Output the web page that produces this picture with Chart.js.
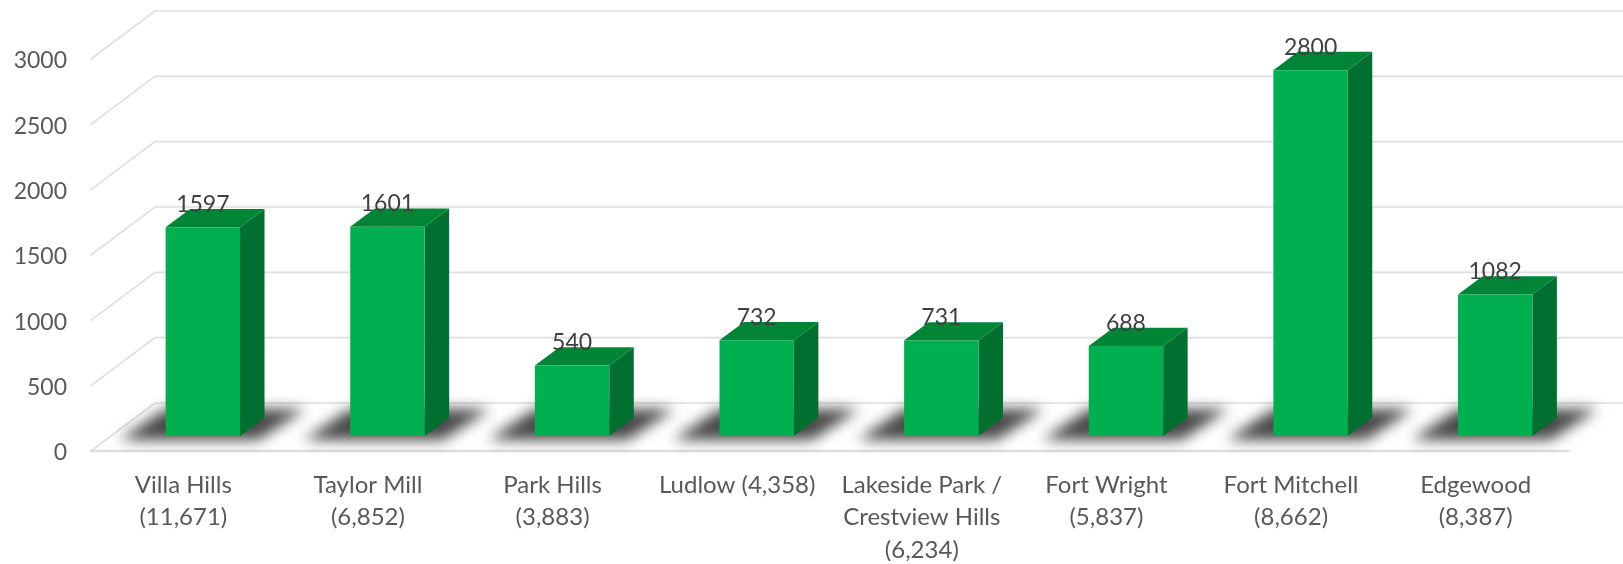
<!DOCTYPE html>
<html>
<head>
<meta charset="utf-8">
<style>html,body{margin:0;padding:0;background:#fff}#w{width:1623px;height:564px}canvas{display:block}</style>
<script src="https://cdn.jsdelivr.net/npm/chart.js@4"></script>
</head>
<body>
<div id="w"><canvas id="c"></canvas></div>
<script>
const categories = [
  ["Villa Hills","(11,671)"],
  ["Taylor Mill","(6,852)"],
  ["Park Hills","(3,883)"],
  ["Ludlow (4,358)"],
  ["Lakeside Park /","Crestview Hills","(6,234)"],
  ["Fort Wright","(5,837)"],
  ["Fort Mitchell","(8,662)"],
  ["Edgewood","(8,387)"]
];
const values = [1597,1601,540,732,731,688,2800,1082];
const FONT = 'Lato, "Open Sans", sans-serif';
const WALL = {dx:64, dy:48};     // floor depth
const BAR = {dx:19.5, dy:15};    // bar front plane inset
const SIDE = {dx:24.5, dy:18.3}; // bar depth
const FRONT = '#00B050', TOP = '#008537', RIGHT = '#006F30', GRID = '#dedede';

const plot3d = {
  id:'plot3d',
  beforeDatasetsDraw(chart){
    const {ctx, chartArea:a, scales:{y}} = chart;
    ctx.save();
    ctx.strokeStyle = GRID; ctx.lineCap='round';
    y.ticks.forEach(t=>{
      const py = y.getPixelForValue(t.value);
      ctx.lineWidth = 1.6;
      ctx.beginPath();
      ctx.moveTo(a.left, py);
      ctx.lineTo(a.left+WALL.dx, py-WALL.dy);
      ctx.lineTo(chart.width, py-WALL.dy);
      ctx.stroke();
    });
    const y0 = y.getPixelForValue(0);
    ctx.lineWidth = 2.4;
    ctx.beginPath(); ctx.moveTo(a.left,y0); ctx.lineTo(a.right,y0); ctx.stroke();
    ctx.restore();
    const meta = chart.getDatasetMeta(0);
    ctx.save();
    ctx.filter = 'blur(7px)';
    ctx.fillStyle = '#484848';
    meta.data.forEach(el=>{
      const cx = el.x;
      ctx.beginPath();
      ctx.moveTo(cx-64, y0-11);
      ctx.lineTo(cx+75, y0-11);
      ctx.lineTo(cx+122, y0-42);
      ctx.lineTo(cx-18, y0-42);
      ctx.closePath(); ctx.fill();
    });
    ctx.restore();
    ctx.save();
    meta.data.forEach(el=>{
      const l = el.x-el.width/2+BAR.dx, r = el.x+el.width/2+BAR.dx;
      const t = el.y-BAR.dy, b = el.base-BAR.dy;
      ctx.fillStyle = RIGHT;
      ctx.beginPath();
      ctx.moveTo(r,t); ctx.lineTo(r+SIDE.dx,t-SIDE.dy); ctx.lineTo(r+SIDE.dx,b-SIDE.dy); ctx.lineTo(r,b);
      ctx.closePath(); ctx.fill();
      ctx.fillStyle = TOP;
      ctx.beginPath();
      ctx.moveTo(l,t); ctx.lineTo(l+SIDE.dx,t-SIDE.dy); ctx.lineTo(r+SIDE.dx,t-SIDE.dy); ctx.lineTo(r,t);
      ctx.closePath(); ctx.fill();
    });
    ctx.restore();
    ctx.save();
    ctx.translate(BAR.dx,-BAR.dy);
  },
  afterDatasetsDraw(chart){
    const {ctx} = chart;
    ctx.restore();
    const meta = chart.getDatasetMeta(0);
    ctx.save();
    ctx.font = '23px '+FONT;
    ctx.fillStyle = '#404040';
    ctx.textAlign='center'; ctx.textBaseline='middle';
    meta.data.forEach((el,i)=>{
      ctx.fillText(String(values[i]), el.x+BAR.dx, el.y-BAR.dy-23);
    });
    ctx.restore();
  }
};

new Chart(document.getElementById('c'),{
  type:'bar',
  data:{labels:categories,datasets:[{
    data:values,backgroundColor:FRONT,borderWidth:0,
    categoryPercentage:1,barPercentage:0.403,clip:false
  }]},
  plugins:[plot3d],
  options:{
    responsive:true,maintainAspectRatio:false,animation:false,
    layout:{padding:{top:59,right:55,left:0,bottom:0}},
    plugins:{legend:{display:false},tooltip:{enabled:false}},
    scales:{
      x:{
        grid:{display:false,drawTicks:false},border:{display:false},
        afterFit(s){s.height=113;},
        ticks:{color:'#595959',maxRotation:0,minRotation:0,autoSkip:false,padding:18,
          font:{family:FONT,size:24,lineHeight:32.5/24}}
      },
      y:{
        min:0,max:3000,
        grid:{display:false,drawTicks:false},border:{display:false},
        afterFit(s){s.width=91;},
        ticks:{stepSize:500,color:'#595959',padding:24,labelOffset:2,
          callback:v=>String(v),
          font:{family:FONT,size:23}}
      }
    }
  }
});
</script>
</body>
</html>
